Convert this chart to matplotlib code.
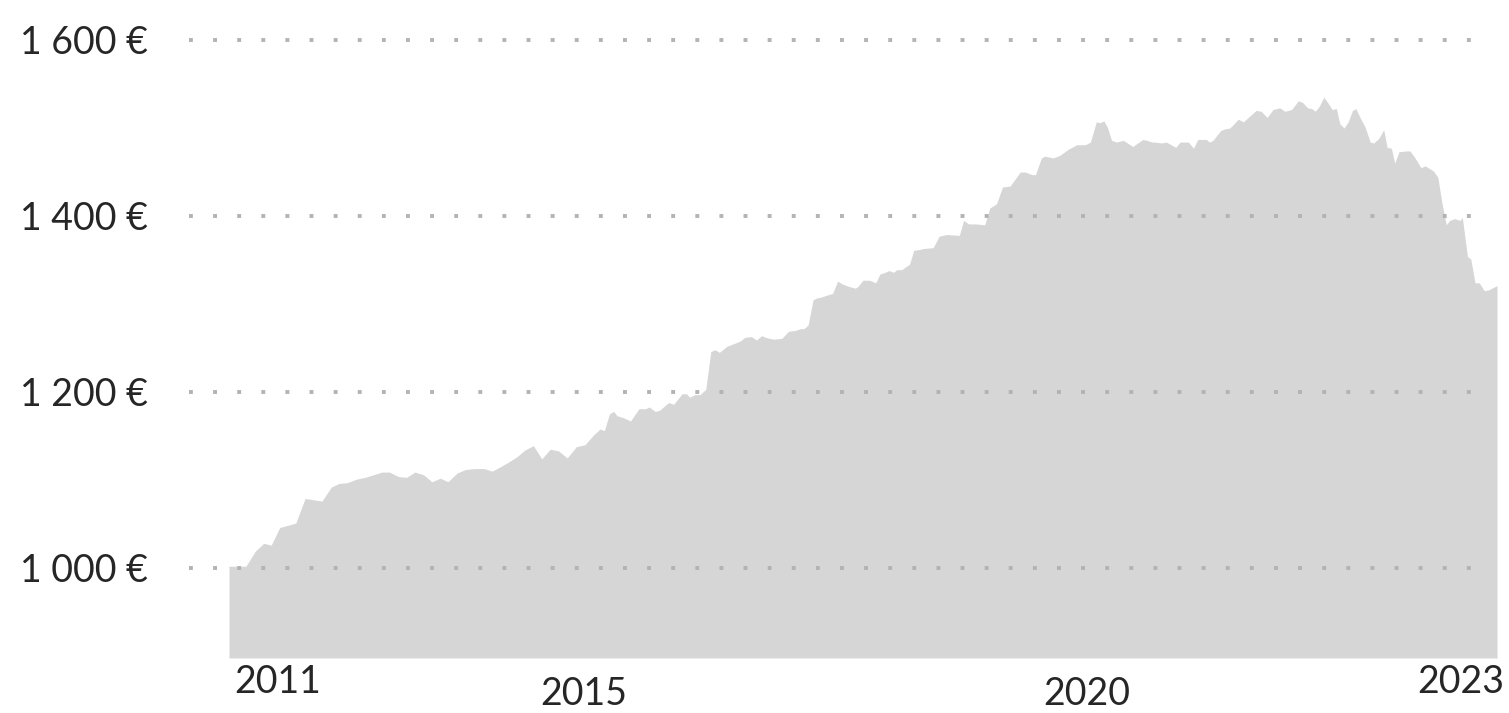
import matplotlib
matplotlib.use("Agg")
import matplotlib.pyplot as plt
from matplotlib import transforms

# ---- data: months since July 2011 (monthly price series), value in €
months = [
    0.0, 2.0, 3.1, 4.1, 5.0, 6.0, 7.9, 9.0, 11.0, 12.1, 13.0, 14.0, 15.1, 16.1,
    17.1, 18.1, 19.0, 20.0, 21.0, 22.0, 23.0, 24.0, 25.0, 25.9, 27.0, 28.0,
    29.1, 30.2, 31.1, 32.1, 33.0, 34.0, 35.0, 36.0, 37.0, 38.0, 39.0, 40.0,
    41.1, 42.1, 43.1, 43.9, 44.4, 45.0, 45.5, 45.9, 46.6, 47.5, 48.5, 49.3,
    49.7, 50.4, 50.9, 52.0, 52.6, 53.6, 54.1, 54.5, 55.1, 55.7, 56.4, 57.0,
    57.5, 58.0, 58.9, 60.0, 60.5, 61.0, 61.8, 62.4, 63.0, 63.5, 64.4, 65.4,
    66.2, 67.0, 67.6, 68.0, 68.5, 69.1, 69.6, 70.1, 70.7, 71.4, 72.0, 72.5,
    73.3, 74.1, 74.4, 75.0, 75.8, 76.5, 77.0, 77.6, 78.1, 78.6, 79.0, 79.6,
    80.0, 80.5, 81.0, 81.7, 82.1, 83.3, 84.0, 84.9, 86.4, 86.9, 87.5, 88.3,
    89.4, 90.0, 90.8, 91.5, 92.4, 93.6, 94.2, 95.0, 95.4, 96.1, 96.5, 97.5,
    98.3, 99.3, 100.3, 101.3, 101.9, 102.6, 103.0, 103.5, 103.9, 104.4, 105.0,
    105.8, 106.9, 108.1, 108.6, 109.2, 109.5, 110.3, 110.9, 112.0, 112.5,
    113.5, 114.1, 114.6, 115.6, 116.0, 116.4, 117.3, 117.8, 118.4, 119.4,
    120.0, 120.8, 121.5, 122.1, 122.8, 123.5, 124.3, 124.9, 125.7, 126.5,
    127.0, 127.6, 128.1, 128.5, 129.0, 129.5, 129.9, 130.5, 131.0, 131.4,
    131.9, 132.4, 132.9, 133.3, 133.9, 134.4, 135.0, 135.4, 136.0, 136.6,
    137.0, 137.5, 137.9, 138.4, 139.3, 139.7, 140.3, 141.0, 141.5, 142.0,
    142.5, 143.0, 143.5, 144.0, 144.4, 145.0, 145.6, 145.9, 146.5, 146.9,
    147.4, 147.9, 148.5, 149.0, 149.6, 150.0,
]
prices = [
    1002, 1002, 1019, 1028, 1026, 1046, 1051, 1079, 1076, 1092, 1096, 1097, 1101, 1103,
    1106, 1109, 1109, 1104, 1103, 1109, 1106, 1098, 1102, 1098, 1108, 1112,
    1113, 1113, 1110, 1115, 1120, 1126, 1134, 1139, 1124, 1135, 1133, 1125,
    1138, 1140, 1151, 1158, 1156, 1175, 1178, 1173, 1171, 1167, 1181, 1181,
    1183, 1178, 1179, 1188, 1186, 1198, 1198, 1194, 1197, 1197, 1203, 1246,
    1248, 1245, 1252, 1256, 1258, 1262, 1263, 1259, 1264, 1262, 1260, 1261,
    1269, 1270, 1272, 1272, 1276, 1305, 1307, 1308, 1310, 1312, 1326, 1323,
    1320, 1318, 1320, 1327, 1327, 1324, 1334, 1336, 1338, 1336, 1339, 1339,
    1342, 1345, 1361, 1362, 1363, 1364, 1377, 1379, 1378, 1395, 1391, 1391,
    1390, 1409, 1414, 1433, 1434, 1450, 1450, 1447, 1447, 1466, 1468, 1466,
    1469, 1476, 1481, 1481, 1484, 1507, 1506, 1508, 1501, 1486, 1484,
    1486, 1479, 1487, 1486, 1484, 1484, 1483, 1484, 1478, 1484,
    1484, 1477, 1487, 1487, 1484, 1486, 1497, 1499, 1500, 1510,
    1507, 1514, 1520, 1519, 1512, 1521, 1523, 1519, 1521, 1531,
    1529, 1523, 1522, 1519, 1525, 1535, 1530, 1521, 1522, 1505,
    1500, 1507, 1520, 1522, 1510, 1501, 1484, 1483, 1488, 1498,
    1478, 1477, 1460, 1473, 1474, 1474, 1466, 1455, 1457, 1454,
    1451, 1444, 1414, 1390, 1395, 1397, 1395, 1398, 1354, 1351,
    1324, 1324, 1315, 1316, 1319, 1321,
]
y_ticks = [1000, 1200, 1400, 1600]
y_labels = ["1 000 €", "1 200 €", "1 400 €", "1 600 €"]
x_labels = ["2011", "2015", "2020", "2023"]

# ---- figure
W, H, DPI = 1509, 713, 100
fig = plt.figure(figsize=(W / DPI, H / DPI), dpi=DPI)
plt.rcParams['font.family'] = ['Lato', 'DejaVu Sans']

ax_left_px, ax_right_px, ax_bottom_px = 189, 1497, 658
ax = fig.add_axes([ax_left_px / W, (H - ax_bottom_px) / H,
                   (ax_right_px - ax_left_px) / W, ax_bottom_px / H])
px_per_month = (1497 - 229) / 150.0
ax.set_xlim(-(229 - ax_left_px) / px_per_month, 150)
ax.set_ylim(897.7, 1645.5)

fill_color = "#d6d6d6"
ax.fill_between(months, prices, 897.7, color=fill_color, linewidth=0, zorder=1)

grid_color = "#b3b3b3"
for yv in y_ticks:
    ax.axhline(yv, xmin=0, xmax=(1490 - ax_left_px) / (ax_right_px - ax_left_px),
               color=grid_color, linewidth=2.8, linestyle=(0, (1, 5.2)),
               dash_capstyle="butt", zorder=2)

for s in ax.spines.values():
    s.set_visible(False)
ax.set_xticks([])
ax.set_yticks([])

text_color = "#262626"
fs = 27
# y labels: right-aligned, baseline 14 px below gridline
ylab_tr = transforms.blended_transform_factory(fig.transFigure, ax.transData)
ylab_tr = transforms.offset_copy(ylab_tr, fig=fig, x=0, y=-14, units="dots")
for yv, lab in zip(y_ticks, y_labels):
    ax.text(148 / W, yv, lab, transform=ylab_tr, ha="right", va="baseline",
            fontsize=fs, color=text_color)

# x labels
xtr = transforms.blended_transform_factory(ax.transData, ax.transAxes)
x_pos = [0.6, 42.0, 101.5, 150.8]
x_ha = ["left", "center", "center", "right"]
x_base_px = [693, 705, 705, 693]
for xp, lab, ha, bpx in zip(x_pos, x_labels, x_ha, x_base_px):
    ax.text(xp, (ax_bottom_px - bpx) / ax_bottom_px, lab, transform=xtr,
            ha=ha, va="baseline", fontsize=fs, color=text_color, clip_on=False)

fig.savefig("out.png", dpi=DPI)
